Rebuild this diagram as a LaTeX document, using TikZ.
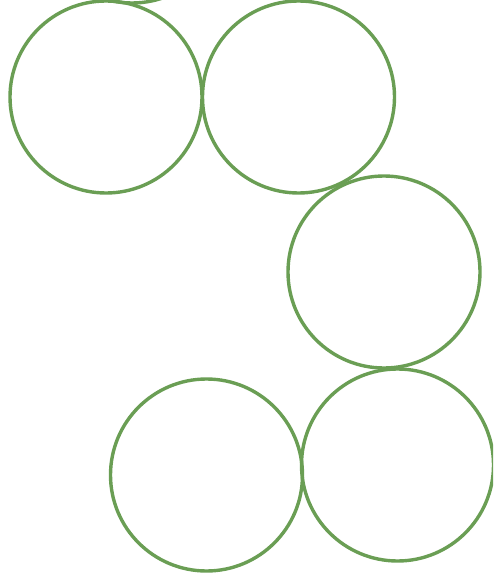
\documentclass[tikz,border=0pt]{standalone}
\definecolor{ring}{RGB}{106,158,84}
\begin{document}
\begin{tikzpicture}[x=1pt,y=-1pt,
  ringnode/.style={circle,draw=ring,line width=3.4pt,minimum size=192pt,inner sep=0pt}]
\useasboundingbox (0,0) rectangle (493,583);
\clip (0,0) rectangle (493,583);
\node[ringnode] (top) at (132,-93) {};
\node[ringnode] (c1) at (106,97) {};
\node[ringnode] (c2) at (298.5,97) {};
\node[ringnode] (c3) at (384,272) {};
\node[ringnode] (c4) at (206.5,475) {};
\node[ringnode] (c5) at (397.5,465) {};
\end{tikzpicture}
\end{document}
